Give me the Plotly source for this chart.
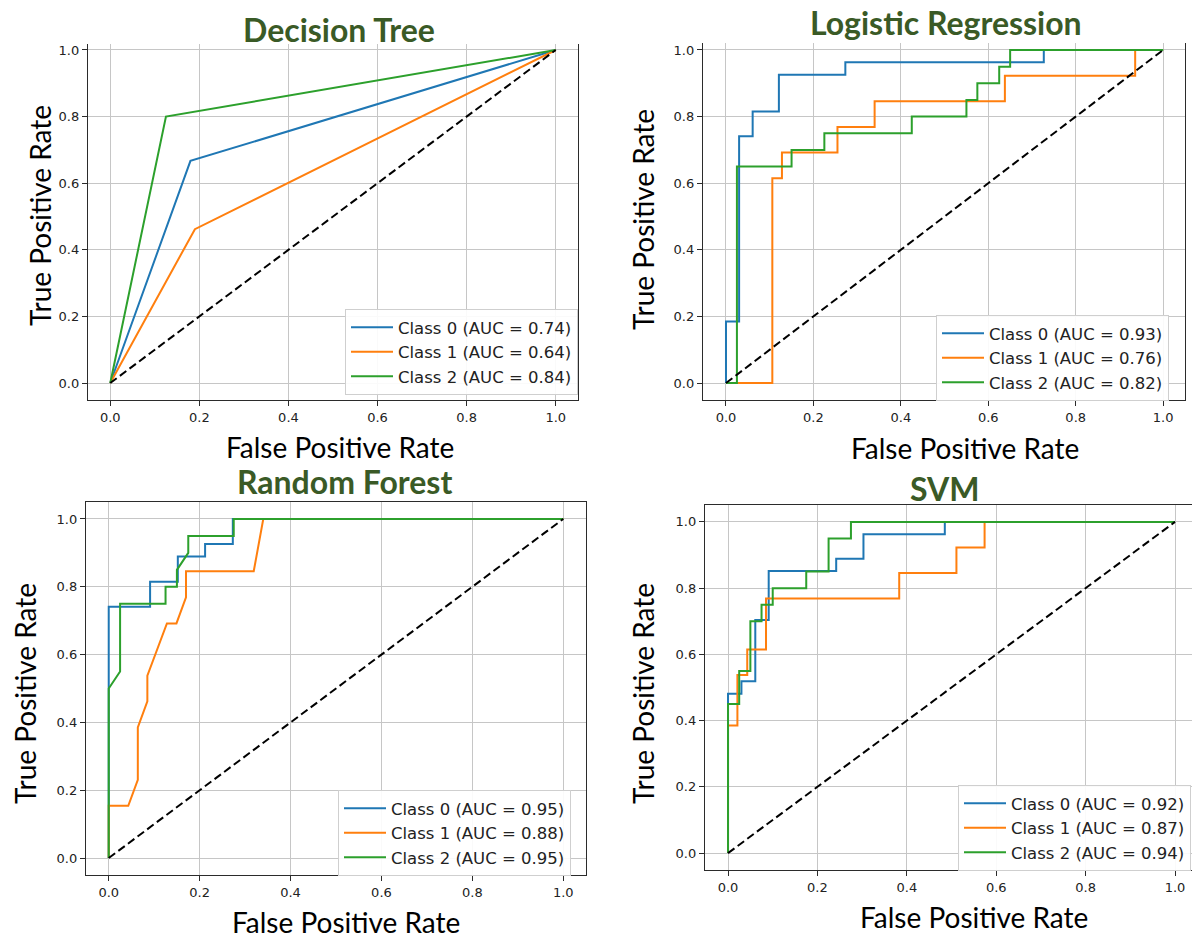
import plotly.graph_objects as go

# Page body margin is removed (see post_script), so reference pixels map 1:1.
OFF = 0
W, H = 1192, 939

# ---------------- data ----------------
titles = ["Decision Tree", "Logistic Regression", "Random Forest", "SVM"]
class_names = ["Class 0", "Class 1", "Class 2"]
colors = ["#1f77b4", "#ff7f0e", "#2ca02c"]

# Decision Tree
dt_auc = [0.74, 0.64, 0.84]
dt_fpr0 = [0.0, 0.18, 1.0]
dt_tpr0 = [0.0, 0.667, 1.0]
dt_fpr1 = [0.0, 0.19, 1.0]
dt_tpr1 = [0.0, 0.462, 1.0]
dt_fpr2 = [0.0, 0.125, 1.0]
dt_tpr2 = [0.0, 0.80, 1.0]

# Logistic Regression
lr_auc = [0.93, 0.76, 0.82]
lr_fpr0 = [0.0, 0.0, 0.030, 0.030, 0.061, 0.061, 0.121, 0.121, 0.273, 0.273, 0.727, 0.727, 1.0]
lr_tpr0 = [0.0, 0.185, 0.185, 0.741, 0.741, 0.815, 0.815, 0.926, 0.926, 0.963, 0.963, 1.0, 1.0]
lr_fpr1 = [0.0, 0.106, 0.106, 0.128, 0.128, 0.255, 0.255, 0.340, 0.340, 0.638, 0.638, 0.936, 0.936, 1.0]
lr_tpr1 = [0.0, 0.0, 0.615, 0.615, 0.692, 0.692, 0.769, 0.769, 0.846, 0.846, 0.923, 0.923, 1.0, 1.0]
lr_fpr2 = [0.0, 0.025, 0.025, 0.15, 0.15, 0.225, 0.225, 0.425, 0.425, 0.55, 0.55, 0.575, 0.575, 0.625, 0.625, 0.65, 0.65, 1.0]
lr_tpr2 = [0.0, 0.0, 0.65, 0.65, 0.70, 0.70, 0.75, 0.75, 0.80, 0.80, 0.85, 0.85, 0.90, 0.90, 0.95, 0.95, 1.0, 1.0]

# Random Forest
rf_auc = [0.95, 0.88, 0.95]
rf_fpr0 = [0.0, 0.0, 0.091, 0.091, 0.152, 0.152, 0.212, 0.212, 0.273, 0.273, 1.0]
rf_tpr0 = [0.0, 0.741, 0.741, 0.815, 0.815, 0.889, 0.889, 0.926, 0.926, 1.0, 1.0]
rf_fpr1 = [0.0, 0.0, 0.043, 0.064, 0.064, 0.085, 0.085, 0.128, 0.149, 0.170, 0.170, 0.319, 0.340, 1.0]
rf_tpr1 = [0.0, 0.154, 0.154, 0.231, 0.385, 0.462, 0.538, 0.692, 0.692, 0.769, 0.846, 0.846, 1.0, 1.0]
rf_fpr2 = [0.0, 0.0, 0.025, 0.025, 0.125, 0.125, 0.15, 0.15, 0.175, 0.175, 0.275, 0.275, 1.0]
rf_tpr2 = [0.0, 0.50, 0.55, 0.75, 0.75, 0.80, 0.80, 0.85, 0.90, 0.95, 0.95, 1.0, 1.0]

# SVM
svm_auc = [0.92, 0.87, 0.94]
svm_fpr0 = [0.0, 0.0, 0.030, 0.030, 0.061, 0.061, 0.091, 0.091, 0.242, 0.242, 0.303, 0.303, 0.485, 0.485, 1.0]
svm_tpr0 = [0.0, 0.481, 0.481, 0.519, 0.519, 0.704, 0.704, 0.852, 0.852, 0.889, 0.889, 0.963, 0.963, 1.0, 1.0]
svm_fpr1 = [0.0, 0.0, 0.021, 0.021, 0.043, 0.043, 0.085, 0.085, 0.383, 0.383, 0.511, 0.511, 0.574, 0.574, 1.0]
svm_tpr1 = [0.0, 0.385, 0.385, 0.538, 0.538, 0.615, 0.615, 0.769, 0.769, 0.846, 0.846, 0.923, 0.923, 1.0, 1.0]
svm_fpr2 = [0.0, 0.0, 0.025, 0.025, 0.05, 0.05, 0.075, 0.075, 0.10, 0.10, 0.175, 0.175, 0.225, 0.225, 0.275, 0.275, 1.0]
svm_tpr2 = [0.0, 0.45, 0.45, 0.55, 0.55, 0.70, 0.70, 0.75, 0.75, 0.80, 0.80, 0.85, 0.85, 0.95, 0.95, 1.0, 1.0]

tick_vals = [0.0, 0.2, 0.4, 0.6, 0.8, 1.0]
tick_text = ["0.0", "0.2", "0.4", "0.6", "0.8", "1.0"]
x_label = "False Positive Rate"
y_label = "True Positive Rate"

models = [
    (dt_auc, [dt_fpr0, dt_fpr1, dt_fpr2], [dt_tpr0, dt_tpr1, dt_tpr2]),
    (lr_auc, [lr_fpr0, lr_fpr1, lr_fpr2], [lr_tpr0, lr_tpr1, lr_tpr2]),
    (rf_auc, [rf_fpr0, rf_fpr1, rf_fpr2], [rf_tpr0, rf_tpr1, rf_tpr2]),
    (svm_auc, [svm_fpr0, svm_fpr1, svm_fpr2], [svm_tpr0, svm_tpr1, svm_tpr2]),
]

# ---------------- layout (reference pixel geometry) ----------------
panels = [
    dict(box=(88, 578, 44, 400), xr=[-0.05, 1.05], yr=[-0.051, 1.018], topline=False, rightline=True,
         title_xy=(339, 30), xlab_xy=(340, 447), ylab_xy=(40, 216), leg_xy=(345, 309)),
    dict(box=(703, 1185, 43, 400), xr=[-0.0526, 1.050], yr=[-0.051, 1.021], topline=False, rightline=True,
         title_xy=(946, 23), xlab_xy=(965, 448), ylab_xy=(643, 220), leg_xy=(936, 315)),
    dict(box=(86, 586, 502, 875), xr=[-0.05, 1.05], yr=[-0.05, 1.05], topline=True, rightline=True,
         title_xy=(344, 482), xlab_xy=(346, 922), ylab_xy=(25, 694), leg_xy=(338, 790)),
    dict(box=(705, 1192, 505, 870), xr=[-0.0515, 1.038], yr=[-0.051, 1.051], topline=True, rightline=False,
         title_xy=(945, 488), xlab_xy=(974, 917), ylab_xy=(643, 694), leg_xy=(958, 785)),
]


def px(x):
    return (x - OFF) / W


def py(y):
    return 1 - (y - OFF) / H


fig = go.Figure()
layout = dict(
    width=W, height=H,
    margin=dict(l=0, r=0, t=0, b=0, autoexpand=False),
    paper_bgcolor="white", plot_bgcolor="white",
    showlegend=True,
    font=dict(family="DejaVu Sans", color="#222"),
)
annotations = []

tick_font = dict(family="DejaVu Sans", size=13, color="#222")
spine_color = "#2b2b2b"
grid_color = "#c6c6c6"

for i, (p, (aucs, fprs, tprs)) in enumerate(zip(panels, models)):
    n = "" if i == 0 else str(i + 1)
    xa, ya = "x" + n, "y" + n
    leg = "legend" + n
    l, r, t, b = p["box"]
    xd = [max(0.0, px(l)), min(1.0, px(r))]
    yd = [max(0.0, py(b)), min(1.0, py(t))]
    layout["xaxis" + n] = dict(
        domain=xd, range=p["xr"], anchor=ya, tickvals=tick_vals, ticktext=tick_text,
        showgrid=True, gridcolor=grid_color, gridwidth=1, zeroline=False,
        showline=True, linecolor=spine_color, linewidth=1.3, mirror=p["topline"],
        ticks="outside", ticklen=5, tickwidth=1, tickcolor=spine_color, tickfont=tick_font,
        fixedrange=True,
    )
    layout["yaxis" + n] = dict(
        domain=yd, range=p["yr"], anchor=xa, tickvals=tick_vals, ticktext=tick_text,
        showgrid=True, gridcolor=grid_color, gridwidth=1, zeroline=False,
        showline=True, linecolor=spine_color, linewidth=1.3, mirror=p["rightline"],
        ticks="outside", ticklen=5, tickwidth=1, tickcolor=spine_color, tickfont=tick_font,
        fixedrange=True,
    )
    lx, ly = p["leg_xy"]
    layout[leg] = dict(
        x=px(lx), y=py(ly), xanchor="left", yanchor="top",
        bgcolor="rgba(255,255,255,0.9)", bordercolor="#cfcfcf", borderwidth=1,
        font=dict(family="DejaVu Sans", size=16.5, color="#222"),
        traceorder="grouped", tracegroupgap=0, itemwidth=42,
    )
    for k in range(3):
        fig.add_trace(go.Scatter(
            x=fprs[k], y=tprs[k], mode="lines", xaxis=xa, yaxis=ya,
            line=dict(color=colors[k], width=2),
            name=f"{class_names[k]} (AUC = {aucs[k]:.2f})",
            legend=leg, legendgroup=f"p{i}c{k}", showlegend=True,
        ))
    fig.add_trace(go.Scatter(
        x=[0, 1], y=[0, 1], mode="lines", xaxis=xa, yaxis=ya,
        line=dict(color="black", width=2, dash="8px,4px"), showlegend=False, hoverinfo="skip",
    ))

    tx, ty = p["title_xy"]
    annotations.append(dict(
        text="<b>" + titles[i] + "</b>", x=px(tx), y=py(ty), xref="paper", yref="paper",
        xanchor="center", yanchor="middle", showarrow=False, borderpad=0,
        font=dict(family="Lato", size=32, color="#3a5a26"),
    ))
    xx, xy = p["xlab_xy"]
    annotations.append(dict(
        text=x_label, x=px(xx), y=py(xy), xref="paper", yref="paper",
        xanchor="center", yanchor="middle", showarrow=False,
        font=dict(family="Lato", size=28, color="black"),
    ))
    yx, yy = p["ylab_xy"]
    annotations.append(dict(
        text=y_label, x=px(yx), y=py(yy), xref="paper", yref="paper",
        xanchor="center", yanchor="middle", showarrow=False, textangle=-90,
        font=dict(family="Lato", size=28, color="black"),
    ))

layout["annotations"] = annotations
fig.update_layout(**layout)
fig.write_html(
    "out.html",
    config={"displayModeBar": False},
    post_script="document.body.style.margin='0px';document.body.style.padding='0px';",
)
